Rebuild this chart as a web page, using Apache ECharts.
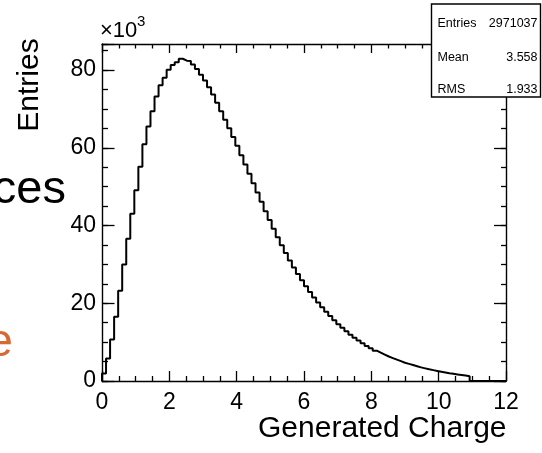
<!DOCTYPE html>
<html>
<head>
<meta charset="utf-8">
<script src="https://cdn.jsdelivr.net/npm/echarts@6/dist/echarts.min.js"></script>
<style>
html,body{margin:0;padding:0;background:#fff;}
#c{width:542px;height:453px;}
</style>
</head>
<body>
<div id="c"></div>
<script>
// Histogram definition
const xMin = 0, xMax = 12, nBins = 100;
// Bin contents in units of 10^3 entries
const counts = [
  1.9, 5.8, 10.7, 16.5, 23.2, 30.0, 36.6, 43.0, 49.1, 55.1,
  60.9, 65.5, 69.4, 73.2, 76.1, 78.0, 80.1, 81.3, 82.0, 82.9,
  82.4, 82.3, 81.4, 80.3, 78.8, 77.3, 75.6, 73.7, 71.6, 69.4,
  67.2, 65.0, 62.8, 60.5, 58.1, 55.7, 53.3, 50.9, 48.5, 46.1,
  43.7, 41.4, 39.2, 37.0, 34.9, 32.9, 31.0, 29.2, 27.5, 25.9,
  24.4, 22.9, 21.5, 20.2, 19.0, 17.8, 16.7, 15.6, 14.6, 13.7,
  12.8, 11.9, 11.1, 10.4, 9.7, 9.0, 8.4, 7.8, 7.3, 6.8,
  6.3, 5.9, 5.5, 5.1, 4.7, 4.4, 4.1, 3.8, 3.5, 3.25,
  3.0, 2.8, 2.6, 2.4, 2.2, 2.0, 1.85, 1.7, 1.55, 1.4,
  1.25, 0, 0, 0, 0, 0, 0, 0, 0, 0
];
const xTickLabels = ['0', '2', '4', '6', '8', '10', '12'];
const yTickLabels = ['0', '20', '40', '60', '80'];
const yMax = 86.7;
const statNames = ['Entries', 'Mean', 'RMS'];
const statValues = ['2971037', '3.558', '1.933'];
const xTitle = 'Generated Charge';
const yTitle = 'Entries';

const binW = (xMax - xMin) / nBins;
const stepData = [[xMin, 0]];
counts.forEach((v, i) => stepData.push([xMin + i * binW, v]));
stepData.push([xMax, counts[counts.length - 1]]);

const FONT = 'Liberation Sans, Arial, Helvetica, sans-serif';
const black = '#000';

function xAx(pos, showLabel, majorLen, minorLen, showLine) {
  return {
    type: 'value', position: pos, min: xMin, max: xMax, interval: 2,
    axisLine: { show: showLine, onZero: false, lineStyle: { color: black, width: 1.4 } },
    axisTick: { show: true, inside: true, length: majorLen, lineStyle: { color: black, width: 1.3 } },
    minorTick: { show: true, splitNumber: 4, length: minorLen, lineStyle: { color: black, width: 1.3 } },
    splitLine: { show: false },
    axisLabel: {
      show: showLabel, margin: 10, color: black, fontSize: 23, fontFamily: FONT,
      formatter: v => xTickLabels[Math.round(v / 2)] ?? ''
    }
  };
}
function yAx(pos, interval, showLabel, tickLen, showLine) {
  return {
    type: 'value', position: pos, min: 0, max: yMax, interval: interval,
    axisLine: { show: showLine, onZero: false, lineStyle: { color: black, width: 1.4 } },
    axisTick: { show: true, inside: true, length: tickLen, lineStyle: { color: black, width: 1.3 } },
    splitLine: { show: false },
    axisLabel: {
      show: showLabel, margin: 6, color: black, fontSize: 23, fontFamily: FONT,
      formatter: v => {
        const k = Math.round(v / 20);
        return Math.abs(v - k * 20) < 1e-6 ? (yTickLabels[k] ?? '') : '';
      }
    }
  };
}

const chart = echarts.init(document.getElementById('c'), null, { renderer: 'canvas' });
const boxX = 431.5, boxY = 4, boxW = 109, boxH = 93;
const rowY = [24, 58, 90];
const graphics = [
  { type: 'text', x: 66, y: 190, z: 100, style: { text: 'ces', fontSize: 47, fontFamily: FONT, fill: black, align: 'right', verticalAlign: 'middle' } },
  { type: 'text', x: 13, y: 343, z: 100, style: { text: 'e', fontSize: 47, fontFamily: FONT, fill: '#d66a35', align: 'right', verticalAlign: 'middle' } },
  { type: 'text', x: 100, y: 31, z: 100, style: { text: '×10', fontSize: 22, fontFamily: FONT, fill: black, align: 'left', verticalAlign: 'middle' } },
  { type: 'text', x: 137, y: 22, z: 100, style: { text: '3', fontSize: 15, fontFamily: FONT, fill: black, align: 'left', verticalAlign: 'middle' } },
  { type: 'text', x: 506.5, y: 429, z: 100, style: { text: xTitle, fontSize: 30, fontFamily: FONT, fill: black, align: 'right', verticalAlign: 'middle' } },
  { type: 'text', x: 30, y: 85, rotation: Math.PI / 2, z: 100, style: { text: yTitle, fontSize: 30, fontFamily: FONT, fill: black, align: 'center', verticalAlign: 'middle' } },
  { type: 'rect', z: 100, shape: { x: boxX, y: boxY, width: boxW, height: boxH }, style: { fill: '#fff', stroke: black, lineWidth: 1.4 } }
];
statNames.forEach((n, i) => {
  graphics.push({ type: 'text', x: boxX + 6, y: rowY[i], z: 101, style: { text: n, fontSize: 12.5, fontFamily: FONT, fill: black, align: 'left', verticalAlign: 'middle' } });
  graphics.push({ type: 'text', x: boxX + boxW - 3, y: rowY[i], z: 101, style: { text: statValues[i], fontSize: 12.5, fontFamily: FONT, fill: black, align: 'right', verticalAlign: 'middle' } });
});

chart.setOption({
  animation: false,
  backgroundColor: '#fff',
  grid: { left: 102, right: 36, top: 44, bottom: 72, containLabel: false },
  xAxis: [xAx('bottom', true, 10, 5, true), xAx('top', false, 9, 4.5, true)],
  yAxis: [
    yAx('left', 20, true, 12.5, true),
    yAx('left', 5, false, 6, false),
    yAx('right', 20, false, 12, true),
    yAx('right', 5, false, 5, false)
  ],
  series: [{
    type: 'line', xAxisIndex: 0, yAxisIndex: 0, step: 'end',
    data: stepData, symbol: 'none', clip: true,
    lineStyle: { color: black, width: 2 }
  }],
  graphic: graphics
});
</script>
</body>
</html>
